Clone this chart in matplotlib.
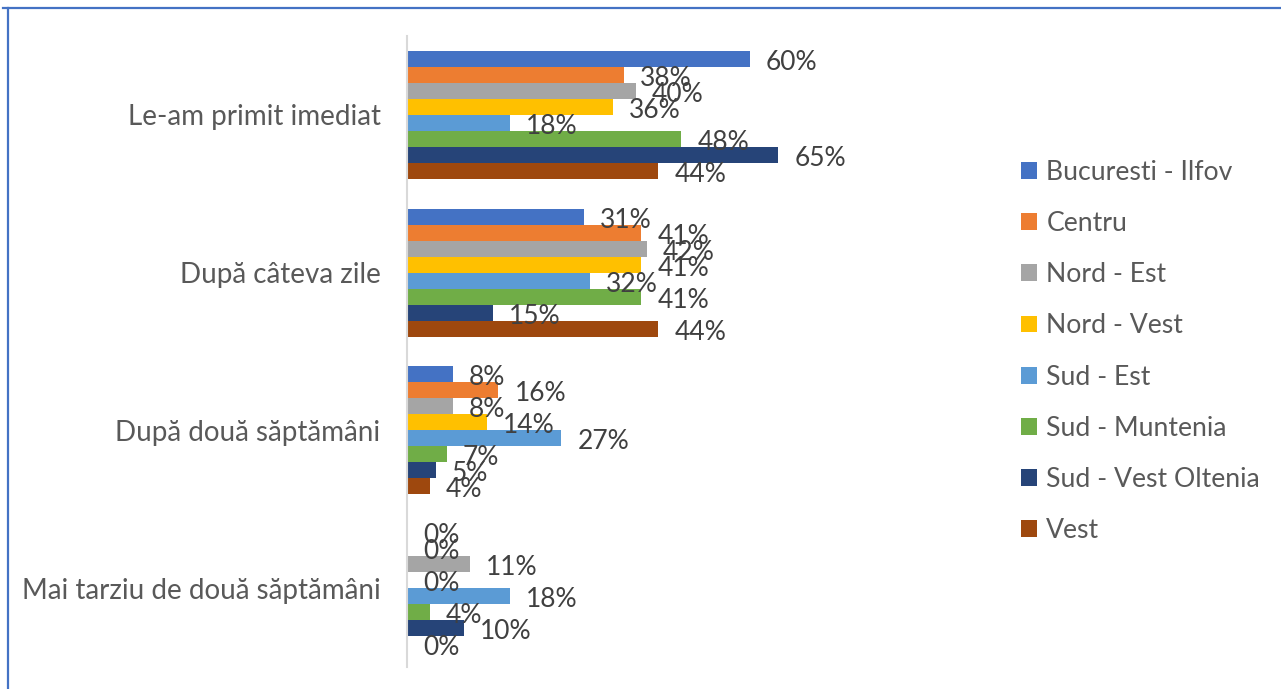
import matplotlib.pyplot as plt
from matplotlib.lines import Line2D
import numpy as np

plt.rcParams["font.family"] = ["Lato", "DejaVu Sans"]

CATEGORIES = [
    "Le-am primit imediat",
    "După câteva zile",
    "După două săptămâni",
    "Mai tarziu de două săptămâni",
]
REGIONS = [
    "Bucuresti - Ilfov",
    "Centru",
    "Nord - Est",
    "Nord - Vest",
    "Sud - Est",
    "Sud - Muntenia",
    "Sud - Vest Oltenia",
    "Vest",
]
# percentages per region, one value per category
BUCURESTI = [60, 31, 8, 0]
CENTRU = [38, 41, 16, 0]
NORD_EST = [40, 42, 8, 11]
NORD_VEST = [36, 41, 14, 0]
SUD_EST = [18, 32, 27, 18]
SUD_MUNTENIA = [48, 41, 7, 4]
SUD_VEST = [65, 15, 5, 10]
VEST = [44, 44, 4, 0]
SERIES = [BUCURESTI, CENTRU, NORD_EST, NORD_VEST, SUD_EST, SUD_MUNTENIA, SUD_VEST, VEST]

COLORS = ["#4472C4", "#ED7D31", "#A5A5A5", "#FFC000",
          "#5B9BD5", "#70AD47", "#264478", "#9E480E"]
TEXT = "#595959"
LABEL = "#404040"

W, H = 1281, 689
fig = plt.figure(figsize=(W / 100, H / 100), dpi=100)
ax = fig.add_axes([407 / W, 1 - 667 / H, 400 / W, 631 / H])

n = len(SERIES)
bar_h = 16 / 157.75
y = np.arange(len(CATEGORIES))
for j, (vals, color, name) in enumerate(zip(SERIES, COLORS, REGIONS)):
    pos = y + (j - (n - 1) / 2) * bar_h
    bars = ax.barh(pos, vals, height=bar_h, color=color, label=name)
    for b, v in zip(bars, vals):
        ax.annotate(f"{v}%", (v, b.get_y() + bar_h / 2), xytext=(11.5, -2.5),
                    textcoords="offset points", ha="left", va="center",
                    fontsize=19, color=LABEL)

ax.set_xlim(0, 70)
ax.set_ylim(len(CATEGORIES) - 0.5, -0.5)
ax.set_xticks([])
ax.set_yticks(y)
ax.set_yticklabels(CATEGORIES, fontsize=20, color=TEXT)
ax.tick_params(axis="y", length=0, pad=19)
for spine in ["top", "right", "bottom"]:
    ax.spines[spine].set_visible(False)
ax.spines["left"].set_color("#d9d9d9")
ax.spines["left"].set_linewidth(1.5)

leg = ax.legend(loc="upper left", bbox_to_anchor=(1021 / W, 1 - 160 / H),
                bbox_transform=fig.transFigure, frameon=False, fontsize=19.2,
                handlelength=0.6, handleheight=0.6, handletextpad=0.35,
                labelspacing=0.98, borderpad=0, borderaxespad=0)
for t in leg.get_texts():
    t.set_color(TEXT)

# frame lines along the top and left edge
fig.add_artist(Line2D([3 / W, 1], [1 - 7.5 / H, 1 - 7.5 / H],
                      transform=fig.transFigure, color="#4472C4", linewidth=1.6))
fig.add_artist(Line2D([7.5 / W, 7.5 / W], [0, 1 - 7.5 / H],
                      transform=fig.transFigure, color="#4472C4", linewidth=1.6))

fig.savefig("out.png", dpi=100)
